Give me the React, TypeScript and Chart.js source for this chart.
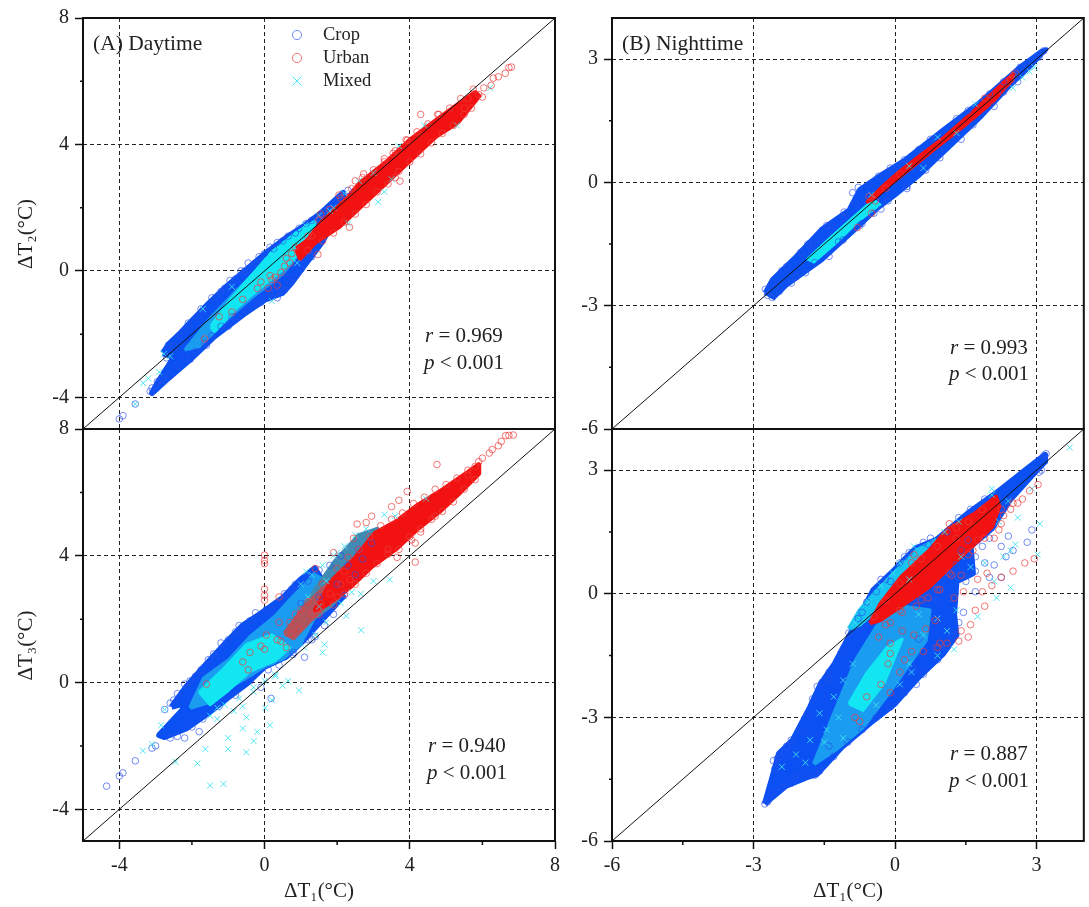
import React, { useEffect, useRef } from "react";
import { Chart, registerables } from "chart.js";

Chart.register(...registerables);

type P = [number, number];

const FONT = "'Liberation Serif', 'Times New Roman', serif";
const BLUE = "#0b50f2";
const MID = "#1a9cf0";
const CYAN = "#12e6f2";
const RED = "#f21212";
const MUD = "#b0545e";
const FRINGE = "#3f8bb4";

const seriesNames = ["Crop", "Urban", "Mixed"];

const dayTicks = [-4, 0, 4, 8];
const dayMinor = [-2, 2, 6];
const nightTicks = [-6, -3, 0, 3];
const nightMinor = [-4.5, -1.5, 1.5];

// ---------- Panel A (ΔT2 vs ΔT1, daytime) ----------
const aCropBody: P[] = [[-2.8,-2.6],[-2.62,-2.3],[-2.36,-2.02],[-1.97,-1.55],[-1.57,-1.07],[-0.98,-0.43],[-0.39,0.15],[0.1,0.62],[0.59,1.04],[1.08,1.41],[1.57,1.84],[2.16,2.47],[2.2,2.2],[1.57,0.89],[1.08,0.15],[0.74,-0.38],[0.49,-0.7],[0,-0.91],[-0.59,-1.38],[-1.38,-2.07],[-2.06,-2.81],[-2.65,-3.39],[-3.1,-3.86],[-2.95,-3.55],[-2.56,-2.85],[-2.4,-2.45],[-2.56,-2.7]];
const aMidBody: P[] = [[-2.2,-2.5],[-1.5,-1.5],[-0.8,-0.65],[-0.1,0.15],[0.6,0.85],[1.2,1.35],[1.2,0.9],[0.5,-0.1],[-0.3,-0.8],[-1,-1.5],[-1.8,-2.4]];
const aMixedBody: P[] = [[-1.47,-1.75],[-0.88,-0.85],[-0.2,0.04],[0.2,0.57],[0.88,1.2],[1.38,1.55],[1.28,0.99],[0.59,0.15],[-0.2,-0.59],[-0.79,-1.17],[-1.38,-1.9]];
const aUrbanBody: P[] = [[0.88,0.7],[1.18,0.95],[1.57,1.52],[2.16,2.15],[2.65,2.79],[3.34,3.42],[4.03,4.16],[4.82,4.84],[5.4,5.32],[5.8,5.64],[5.9,5.53],[5.31,4.69],[4.72,4.26],[4.13,3.63],[3.44,2.89],[2.75,2.15],[2.06,1.41],[1.38,0.89],[0.98,0.4]];
const aCrop: P[] = [[-4,-4.68],[-3.9,-4.58],[-3.56,-4.21],[-3.15,-3.81],[-3.1,-3.7],[-2.95,-3.5],[-2.8,-3.4],[-2.7,-2.75],[-2.6,-3.3],[-2.5,-2.4],[-2.35,-2.05],[-2.2,-1.9],[-2.05,-2.8],[-1.85,-1.45],[-1.7,-1.25],[-1.6,-2.35],[-1.35,-0.85],[-1.2,-1.75],[-1.1,-0.55],[-0.9,-1.45],[-0.8,-0.25],[-0.55,0],[-0.3,-1.05],[-0.25,0.25],[0,0.55],[-0.1,-1],[0.1,-0.85],[0.25,0.7],[0.3,-0.7],[0.45,-0.6],[0.5,0.95],[0.7,-0.35],[0.65,1.1],[0.95,1.35],[1.15,1.5],[1.55,1.75],[1.75,1.95],[2.15,2.4],[2.3,2.55],[-2.65,-2.35],[-2.1,-1.65],[-1.75,-1.2],[-1.45,-0.85],[-1.2,-0.65],[-0.95,-0.3],[-0.65,0],[-0.45,0.25],[-0.15,0.45],[0.15,0.75],[0.35,0.9],[0.85,1.2],[1.3,1.6],[-2.85,-3.45],[-2.4,-3],[-2.2,-2.75],[-1.9,-2.55],[-1.65,-2.3],[-1.45,-2.05],[-1,-1.75],[-0.75,-1.45],[-0.5,-1.25],[-0.2,-1.05],[0.35,-0.85],[0.55,-0.6],[0.8,-0.2],[1,0.05],[1.3,0.45]];
const aMixed: P[] = [[-3.34,-3.55],[-3.2,-3.4],[-2.77,-2.62],[-3.56,-4.21],[-2.9,-3.2],[-2.6,-2.7],[-1.7,-1.2],[-0.9,-0.5],[0.2,-0.95],[0.9,0.25],[1.12,1.45],[1.5,1.75],[1.8,1.9],[2.2,2.45],[2.6,2.85],[3.13,2.18],[3.3,2.5],[3,3.1],[3.7,3.95],[4.4,4.6],[5.3,4.6],[6.21,5.79],[1.9,2],[2.3,1.5],[3.5,2.9]];
const aUrban: P[] = [[6.8,6.45],[6.73,6.43],[6.63,6.25],[6.44,6.14],[6.3,6.1],[6.24,5.87],[6.04,5.79],[5.9,5.58],[5.75,5.75],[5.6,5.45],[5.5,5.15],[4.3,4.95],[4.77,4.95],[3.93,4.13],[3.73,2.84],[3.6,2.95],[2.34,1.38],[1.47,0.52],[2.73,3.07],[3.54,3.72],[3.3,3.45],[2.5,2.85],[2.05,2.4],[1.55,1.8],[1.3,1.1],[0.2,-0.27],[0.3,-0.2],[0.45,-0.05],[0.55,0.15],[0.7,0.25],[0.75,0.55],[0.85,0.75],[0.35,-0.45],[0.15,-0.15],[-0.2,-0.55],[-0.1,-0.35],[-0.9,-1.3],[-0.6,-0.9],[-1.65,-2.15],[-1.25,-1.45],[0.6,0.4],[0.1,-0.55],[1.2,1.1],[1.5,1.6],[1.8,1.95],[2.1,2.3],[2.4,2.6],[2.7,2.95],[3,3.2],[3.3,3.55],[3.6,3.8],[3.9,4.15],[4.2,4.4],[4.5,4.65],[4.8,4.95],[5.1,5.15],[5.4,5.45],[1.2,0.65],[1.6,0.95],[1.9,1.2],[2.2,1.55],[2.5,1.8],[2.8,2.1],[3.1,2.5],[3.4,2.75],[3.7,3.15],[4,3.45],[4.3,3.7],[4.6,4.05],[4.9,4.35],[5.2,4.6],[5.5,4.95],[5.7,5.15],[6,5.5]];

// ---------- Panel B (ΔT2 vs ΔT1, nighttime) ----------
const bCropBody: P[] = [[-2.76,-2.68],[-2.57,-2.81],[-2.31,-2.52],[-1.57,-1.91],[-0.83,-1.14],[-0.39,-0.66],[-0.01,-0.33],[0.5,0.15],[1.1,0.8],[1.84,1.61],[2.43,2.34],[2.88,2.83],[3.21,3.24],[3.1,3.2],[2.66,2.83],[1.77,1.94],[1.02,1.29],[0.21,0.56],[-0.31,0.19],[-0.76,-0.17],[-0.98,-0.66],[-1.57,-1.14],[-2.17,-1.87],[-2.61,-2.36]];
const bMixedBody: P[] = [[-1.87,-1.87],[-1.35,-1.31],[-0.83,-0.78],[-0.46,-0.41],[-0.31,-0.54],[-0.76,-0.94],[-1.28,-1.51],[-1.72,-1.95]];
const bUrbanBody: P[] = [[-0.61,-0.49],[-0.27,-0.09],[0.06,0.24],[0.5,0.64],[1.02,1.09],[1.54,1.61],[1.99,2.1],[2.36,2.51],[2.51,2.63],[2.47,2.47],[2.06,1.94],[1.47,1.37],[0.88,0.84],[0.36,0.36],[-0.09,-0.05],[-0.46,-0.41]];
const bCrop: P[] = [[-2.75,-2.6],[-2.7,-2.75],[-2.6,-2.8],[-2.6,-2.45],[-2.45,-2.65],[-2.3,-2.05],[-2.1,-2.3],[-1.75,-1.5],[-1.7,-1.95],[-1.35,-1.05],[-1.2,-1.45],[-1.08,-0.72],[-0.9,-0.25],[-0.78,-0.12],[-0.7,-1],[-0.35,0.15],[-0.15,0.25],[-0.3,-0.65],[0.05,0.4],[0.2,0.55],[0.25,-0.15],[3.15,3.2],[3.05,3.05],[2.9,2.95],[2.65,2.8],[-2.4,-2.15],[-2,-1.7],[-1.85,-1.5],[-1.45,-1.05],[-1.1,-0.85],[-0.85,-0.5],[-0.55,-0.05],[-0.1,0.35],[0.5,0.8],[0.75,1.05],[1.3,1.55],[1.55,1.75],[2,2.15],[2.3,2.45],[-2.2,-2.45],[-1.9,-2.2],[-1.4,-1.8],[-1.1,-1.4],[-0.75,-1.05],[-0.45,-0.75],[-0.15,-0.45],[0.25,-0.1],[0.65,0.3],[0.95,0.6],[1.4,1.05],[1.65,1.4],[2.1,1.85],[2.3,2.2],[2.6,2.45]];
const bMixed: P[] = [[-0.5,-0.3],[0.3,0.4],[0.9,1.1],[1.7,1.9],[2.5,2.3],[2.85,2.7],[2.95,2.8],[2.7,2.55],[1.3,1.2],[0.6,0.35]];
const bUrban: P[] = [[-0.55,-0.35],[-0.42,-0.45],[-0.2,-0.15],[0.1,0.2],[2.5,2.6],[2.45,2.5],[2.55,2.65],[1.9,2.05],[-0.8,-1.1],[-0.5,-0.75]];

// ---------- Panel C (ΔT3 vs ΔT1, daytime) ----------
const cCropBody: P[] = [[-2.56,-0.77],[-2.16,-0.14],[-1.67,0.5],[-1.08,1.23],[-0.59,1.81],[-0.1,2.18],[0.49,2.66],[0.98,3.23],[1.38,3.6],[1.6,3.2],[2.16,2.71],[1.57,1.97],[1.08,1.34],[0.59,0.81],[0,0.5],[-0.49,-0.03],[-0.98,-0.45],[-1.57,-0.98],[-2.16,-1.45],[-2.75,-1.72],[-2.9,-1.66],[-2.56,-1.24],[-2.26,-0.87],[-2.2,-0.65]];
const cMixedBody: P[] = [[-2.05,-0.8],[-1.67,0.13],[-0.98,0.71],[-0.39,1.44],[0.29,2.08],[0.79,2.71],[1.38,3.39],[1.97,3.02],[1.38,2.08],[0.98,1.2],[0.49,0.75],[-0.1,0.45],[-0.5,0.15],[-0.98,-0.14],[-1.47,-0.6]];
const cCyanBody: P[] = [[-1.8,-0.3],[-1.2,0.35],[-0.5,1.2],[0.2,1.5],[0.7,1.1],[0.3,0.7],[-0.4,0.35],[-1,-0.25],[-1.5,-0.7]];
const cFringeBody: P[] = [[0.9,2.1],[1.4,2.95],[1.95,3.85],[2.6,4.65],[3.1,4.85],[3.3,4.3],[2.4,3.1],[1.8,2.4],[1.2,1.9]];
const cMudBody: P[] = [[0.55,1.55],[1.1,2.4],[1.6,2.95],[2.1,3.4],[2.45,3.3],[1.85,2.6],[1.3,2],[0.8,1.4]];
const cUrbanBody: P[] = [[1.87,3.23],[2.46,3.87],[3.05,4.71],[3.64,5.08],[4.23,5.6],[4.91,6.08],[5.5,6.55],[5.9,6.87],[5.9,6.6],[5.31,5.92],[4.82,5.4],[4.23,4.87],[3.64,4.24],[2.95,3.66],[2.36,3.02],[1.77,2.5],[1.4,2.3]];
const cCrop: P[] = [[-4.35,-3.27],[-4,-2.95],[-3.9,-2.85],[-3.56,-2.47],[-3.1,-2.07],[-3,-2],[-2.2,-1.75],[-1.8,-1.55],[-2.75,-0.85],[-2.6,-0.65],[-2.4,-0.35],[-2.2,-0.05],[-1.9,0.2],[-1.55,0.72],[-1.2,1.25],[-0.8,1.6],[-0.4,1.95],[0.2,2.3],[-0.1,-0.15],[0.18,-0.5],[1.1,0.8],[0.78,0.88],[1.2,1.35],[1.4,1.45],[2.2,2.75],[2.5,3.4],[2.7,3.9],[2.1,4],[1.5,3.55],[0.75,2.95],[2.95,4.4],[2.6,4.2],[2.3,3.7],[1.8,3.7],[1.2,3.2],[2,3.1],[1.5,2.7],[1,2.5],[-2.5,-0.55],[-2.05,0.05],[-1.75,0.4],[-1.4,0.9],[-1,1.35],[-0.7,1.8],[-0.25,2.2],[0.05,2.3],[0.55,2.8],[0.85,3.1],[-2.6,-1.75],[-2.4,-1.7],[-2,-1.4],[-1.7,-1.15],[-1.25,-0.75],[-0.8,-0.4],[-0.4,0.05],[0.1,0.4],[0.4,0.55],[0.8,0.95],[1.3,1.35],[1.65,1.8],[1.9,2.15]];
const cMixed: P[] = [[-3.35,-2.15],[-3.1,-1.95],[-2.85,-1.35],[-2.75,-0.85],[-2.45,-2.5],[-1.85,-2.55],[-1.5,-3.25],[-1.13,-3.2],[-1.63,-2.1],[-1.5,-1.05],[-1.3,-1.15],[-1,-1.75],[-1,-2.1],[-0.5,-2.2],[-0.6,-1.45],[-0.5,-1.1],[-0.3,-1.85],[-0.2,-1.55],[0.15,-1.35],[0.02,-0.8],[0.2,-0.55],[-0.85,-0.9],[-0.6,-0.75],[-0.3,-0.3],[0.3,0.2],[0.65,0.05],[0.95,-0.25],[0.5,-0.1],[1.6,0.95],[1.65,1.2],[2.25,2.1],[2.66,1.65],[3.45,3.25],[2.65,2.8],[1.15,3.5],[2,4.1],[3.6,5.25],[3.3,5.3],[4.45,5.8],[1.5,2.4],[2.5,4.65],[3,3.2],[1,3.1],[1.3,3.4],[1.6,3.7],[1.9,4],[2.2,4.3],[2.8,4.85],[1.2,2.7],[1.7,3.2],[1.1,1.1],[1.4,1.5],[1.7,1.9],[2.1,2.5],[2.4,2.85],[0.3,0.25],[0,0.05],[-0.3,-0.15],[-0.7,-0.5],[-1.1,-0.7],[-1.3,-0.8]];
const cUrban: P[] = [[6.85,7.81],[6.73,7.8],[6.64,7.79],[6.52,7.61],[6.44,7.47],[6.27,7.35],[6.19,7.24],[6,7.08],[5.9,6.97],[5.8,6.82],[5.6,6.55],[4.75,6.88],[3.93,6.03],[3.5,5.55],[2.95,5.25],[2.8,5.05],[2.55,5],[2.45,4.55],[3.7,5.75],[4.7,5.25],[4.3,4.75],[4.05,4.5],[4.15,4.4],[4.15,3.8],[3.65,3.95],[3.4,4.2],[0,4.02],[0,3.85],[0,3.75],[0,2.95],[0,2.75],[0,2.6],[0.4,2.7],[1.9,4.1],[1.4,3.6],[1.6,3.1],[1.8,2.8],[2.2,3.5],[1.2,2.55],[1,2.3],[0.85,2.15],[0.7,1.9],[0.4,1.9],[0.35,1.35],[0.45,1.3],[0.75,1.55],[0.95,1.7],[0.05,1.5],[-0.1,1.15],[0,1.05],[-0.4,0.95],[-0.6,0.65],[-0.45,0.4],[-1.6,-0.05],[0.6,1.1],[1.3,2.15],[1.55,2.5],[2,2.7],[2.1,3.1],[2.35,3.25],[2,3.6],[2.3,3.95],[2.6,4.2],[2.9,4.6],[3.2,4.95],[3.5,5.15],[3.8,5.35],[4.1,5.65],[4.4,5.85],[4.7,6.1],[5,6.25],[5.3,6.45],[5.6,6.7],[1.5,2.15],[1.9,2.45],[2.2,2.8],[2.5,3.1],[2.8,3.45],[3.1,3.75],[3.4,4.05],[3.7,4.2],[4,4.6],[4.3,4.85],[4.6,5.15],[4.9,5.4],[5.2,5.7],[5.5,6.1],[5.8,6.4]];

// ---------- Panel D (ΔT3 vs ΔT1, nighttime) ----------
const dCropBody: P[] = [[-2.76,-5.1],[-2.61,-4.5],[-2.46,-3.88],[-2.17,-3.56],[-1.8,-2.75],[-1.57,-2.18],[-1.28,-1.7],[-0.98,-1.05],[-0.83,-0.72],[-0.46,0.09],[-0.01,0.58],[0.43,1.1],[0.88,1.31],[1.54,1.95],[2.14,2.44],[2.73,2.97],[3.18,3.37],[3.18,3.21],[2.88,2.85],[2.43,2.28],[2.06,1.6],[1.6,1.15],[1.65,0.5],[1.3,0.3],[1.25,-0.5],[1.3,-1],[1.02,-1.45],[0.5,-2.02],[-0.01,-2.67],[-0.46,-3.07],[-1.13,-3.72],[-1.65,-4.37],[-1.87,-4.45],[-2.31,-4.66],[-2.61,-4.94]];
const dMidBody: P[] = [[-1.72,-4.13],[-1.35,-3.07],[-0.83,-1.61],[-0.39,-0.8],[0.21,-0.32],[0.73,-0.4],[0.65,-1.13],[-0.09,-2.34],[-0.68,-3.24],[-1.28,-3.8]];
const dCyanBody: P[] = [[-0.98,-2.67],[-0.61,-1.94],[-0.16,-1.29],[0.15,-1.1],[-0.24,-2.18],[-0.68,-2.83]];
const dTopMixedBody: P[] = [[-0.98,-0.85],[-0.75,-0.4],[-0.39,0.07],[0.02,0.55],[0.45,1.05],[0.85,1.3],[0.85,0.95],[0.2,0.25],[-0.35,-0.35],[-0.75,-0.75]];
const dUrbanBody: P[] = [[-0.53,-0.72],[-0.31,-0.24],[0.13,0.41],[0.73,1.06],[1.1,1.55],[1.69,1.95],[2.14,2.36],[2.21,2.12],[2.06,1.63],[1.62,1.14],[1.17,0.66],[0.73,0.17],[0.21,-0.24],[-0.31,-0.64]];
const dCrop: P[] = [[-2.76,-5.1],[-2.7,-5.05],[-2.62,-4.85],[-2.58,-4.05],[-2.55,-4.25],[-2.45,-3.95],[-2.35,-3.85],[-2.2,-3.55],[-1.85,-2.9],[-1.65,-2.25],[-1.55,-2.15],[-1.4,-1.9],[-0.98,-0.95],[-0.78,-0.6],[-0.4,0.05],[-0.1,0.3],[0.1,0.75],[0.7,1.2],[1.1,1.5],[1.6,2.05],[1.9,2.3],[2.35,2.6],[2.95,3],[3.15,3.35],[3.2,3.4],[3.1,3],[3.05,2.95],[2.8,1.25],[2.9,1.55],[2.4,1.4],[2.25,1.15],[2.35,0.9],[2.5,1.05],[2.1,0.7],[1.9,0.75],[1.7,0.55],[1.5,0.3],[1.7,0.05],[2,0.4],[2.25,0.4],[1.15,-0.1],[0.9,-0.15],[0.5,-1.1],[0.45,-2.2],[-1.4,-3.7],[-1.9,-4.4],[-2.1,-4.4],[-1.7,-4.4],[0.4,-1.8],[0.85,-1.3],[-2.4,-4.7],[-2.2,-4.6],[-1.6,-4.3],[-1.3,-3.95],[-1,-3.6],[-0.7,-3.3],[-0.4,-3],[-0.1,-2.75],[0.2,-2.4],[0.6,-1.95],[0.9,-1.6],[1.1,-1.3],[1.2,-1],[1.35,-0.7],[1.45,-0.45],[1.7,0.9],[1.85,1.15],[2,1.35],[0.2,0.9],[0.6,1.25],[-0.3,0.35],[-0.6,-0.2],[1.55,1.3],[1.4,1.05],[1.3,0.7],[-2.5,-4],[-2.3,-3.7],[-2,-3.3],[-1.75,-2.55],[-1.4,-2.1],[-1.15,-1.45],[-0.7,-0.45],[-0.2,0.35],[0.3,1],[0.75,1.35],[1.35,1.85]];
const dMixed: P[] = [[3.7,3.55],[3.07,1.7],[3.02,0.95],[2.55,1.2],[2.45,1.05],[2.3,0.9],[2.45,0.15],[2.1,0.3],[2.15,-0.1],[1.75,-0.55],[1.6,0.65],[1.4,0.9],[1.9,0.75],[2.05,2.55],[2.05,2.4],[2.4,2.25],[2.6,1.85],[1.35,1.75],[1.05,1.5],[0.4,1.15],[0.1,0.75],[-0.3,0.2],[-0.55,-0.2],[-0.85,-0.7],[1.25,-1.35],[0.9,-1.5],[2.9,2.55],[2.2,1.75],[-0.05,0.5],[0.3,0.35],[0.9,-0.6],[0.5,-0.5],[1.1,-0.9],[1.3,-0.4],[-1.1,-3.5],[-1.8,-3.55],[-0.4,-2.7],[-1.45,-3.3],[0.3,-1.7],[0.6,-1],[-2.4,-4.2],[-2.1,-3.9],[-1.9,-4.1],[-1.5,-3.6],[-1.6,-2.9],[-1.3,-2.5],[-1.1,-2.1],[-1.2,-3],[-0.9,-1.7],[0.1,-2.2],[0.35,-1.9]];
const dUrban: P[] = [[3.03,2.65],[2.85,2.5],[2.7,2.3],[2.6,2.2],[2.5,2.2],[2.45,2.05],[2.3,1.9],[2.25,1.7],[2.2,1.55],[2.1,1.35],[1.75,1.3],[1.65,1.05],[1.3,1.35],[1.15,1.7],[0.4,0.95],[2.95,0.85],[2.75,0.75],[2.5,0.55],[2.25,0.4],[2.05,0.2],[1.85,0.05],[1.9,-0.3],[1.7,-0.4],[1.6,-0.75],[1.4,-0.9],[1.55,-1.05],[1.35,-1.15],[1.1,-1.2],[0.9,-1.3],[1.95,0.5],[1.75,0.35],[1.45,0.05],[1.25,-0.1],[1.4,0.45],[1.15,0.5],[0.95,0.1],[0.7,-0.1],[0.45,-0.3],[0.1,-0.4],[-0.2,-0.75],[-0.35,-1.05],[-0.1,-1.2],[0.15,-0.9],[0.4,-1],[-0.1,-1.45],[-0.15,-1.7],[0.2,-1.6],[0.35,-1.4],[-0.3,-2.2],[-0.6,-2.5],[-0.85,-3],[-0.75,-3.1],[-0.1,-2.4],[0.65,-0.85],[0.85,-0.65],[0.95,-1.2],[0.6,-1.4],[0.1,-1.9],[-0.45,-0.55],[-0.2,-0.15],[0.1,0.25],[0.35,0.75],[0.55,0.85],[0.9,1.15],[1.3,1.6],[1.55,1.75],[1.85,2.05],[2.25,2.05],[1.9,1.35],[1.55,0.95],[1.2,0.45],[0.9,0.1],[0.55,-0.15],[0.15,-0.45],[-0.1,-0.7]];

const oneToOneDay: P[] = [[-5, -5], [8, 8]];
const oneToOneNight: P[] = [[-6, -6], [4, 4]];

type Layer = { name: string; pts: P[]; color: string; edge: number };
type PanelDef = {
  left: number; top: number; width: number; height: number;
  area: { l: number; r: number; t: number; b: number };
  range: [number, number, number];
  ticks: number[]; minor: number[]; diag: P[];
  bodies: Layer[];
  crop: P[]; mixed: P[]; urban: P[];
  yTitle?: string; xTitle?: string; legend?: boolean;
};

const panels: PanelDef[] = [
  { left: 0, top: 0, width: 575, height: 440, area: { l: 83, r: 555, t: 18, b: 429 }, range: [-5, 8, 8],
    ticks: dayTicks, minor: dayMinor, diag: oneToOneDay, yTitle: "ΔT₂(°C)\u00a0\u00a0\u00a0\u00a0", legend: true,
    bodies: [
      { name: "Crop dense", pts: aCropBody, color: BLUE, edge: 6 },
      { name: "Mixed spread", pts: aMidBody, color: MID, edge: 3 },
      { name: "Mixed dense", pts: aMixedBody, color: CYAN, edge: 4 },
      { name: "Urban dense", pts: aUrbanBody, color: RED, edge: 5 },
    ], crop: aCrop, mixed: aMixed, urban: aUrban },
  { left: 560, top: 0, width: 529, height: 440, area: { l: 52, r: 524, t: 18, b: 429 }, range: [-6, 4, 4],
    ticks: nightTicks, minor: nightMinor, diag: oneToOneNight,
    bodies: [
      { name: "Crop dense", pts: bCropBody, color: BLUE, edge: 4 },
      { name: "Mixed dense", pts: bMixedBody, color: CYAN, edge: 2 },
      { name: "Urban dense", pts: bUrbanBody, color: RED, edge: 3 },
    ], crop: bCrop, mixed: bMixed, urban: bUrban },
  { left: 0, top: 410, width: 575, height: 497, area: { l: 83, r: 555, t: 19, b: 431 }, range: [-5, 8, 8],
    ticks: dayTicks, minor: dayMinor, diag: oneToOneDay, yTitle: "ΔT₃(°C)\u00a0\u00a0\u00a0\u00a0", xTitle: "ΔT₁(°C)",
    bodies: [
      { name: "Crop dense", pts: cCropBody, color: BLUE, edge: 6 },
      { name: "Mixed spread", pts: cMixedBody, color: MID, edge: 4 },
      { name: "Mixed dense", pts: cCyanBody, color: CYAN, edge: 3 },
      { name: "Mixed fringe", pts: cFringeBody, color: FRINGE, edge: 4 },
      { name: "Urban spread", pts: cMudBody, color: MUD, edge: 4 },
      { name: "Urban dense", pts: cUrbanBody, color: RED, edge: 5 },
    ], crop: cCrop, mixed: cMixed, urban: cUrban },
  { left: 560, top: 410, width: 529, height: 497, area: { l: 52, r: 524, t: 19, b: 431 }, range: [-6, 4, 4],
    ticks: nightTicks, minor: nightMinor, diag: oneToOneNight, xTitle: "ΔT₁(°C)",
    bodies: [
      { name: "Crop dense", pts: dCropBody, color: BLUE, edge: 6 },
      { name: "Mixed spread", pts: dMidBody, color: MID, edge: 4 },
      { name: "Mixed dense", pts: dCyanBody, color: CYAN, edge: 3 },
      { name: "Mixed upper", pts: dTopMixedBody, color: "#18c4f0", edge: 4 },
      { name: "Urban dense", pts: dUrbanBody, color: RED, edge: 4 },
    ], crop: dCrop, mixed: dMixed, urban: dUrban },
];

const notes = [
  { left: 93, top: 33, text: "(A) Daytime" },
  { left: 622, top: 33, text: "(B) Nighttime" },
];
const stats = [
  { left: 425, top: 325, r: "0.969", p: "0.001", gap: 27 },
  { left: 950, top: 337, r: "0.993", p: "0.001", gap: 26 },
  { left: 428, top: 735, r: "0.940", p: "0.001", gap: 27 },
  { left: 950, top: 743, r: "0.887", p: "0.001", gap: 27 },
];

const CROP_LINE = "rgba(40,80,235,0.65)";
const URBAN_LINE = "rgba(238,60,60,0.7)";
const MIXED_LINE = "rgba(60,225,240,0.9)";

function Panel({ def }: { def: PanelDef }) {
  const ref = useRef<HTMLCanvasElement>(null);
  useEffect(() => {
    const { area, width, height, range, ticks, minor } = def;
    const [lo, xHi, yHi] = range;
    const xAxisHeight = def.xTitle ? height - area.b : 0;
    const frame = {
      id: "frame",
      afterDatasetsDraw(chart: any) {
        const { ctx, chartArea: a, scales } = chart;
        ctx.save();
        ctx.strokeStyle = "#111";
        ctx.lineWidth = 1.5;
        ctx.beginPath();
        for (const v of minor) {
          const y = scales.y.getPixelForValue(v);
          ctx.moveTo(a.left - 3, y);
          ctx.lineTo(a.left, y);
          if (def.xTitle) {
            const x = scales.x.getPixelForValue(v);
            ctx.moveTo(x, a.bottom);
            ctx.lineTo(x, a.bottom + 4);
          }
        }
        ctx.stroke();
        ctx.lineWidth = 2;
        ctx.strokeRect(a.left, a.top, a.right - a.left, a.bottom - a.top);
        if (def.legend) {
          const px = 297;
          const tx = 323;
          const rows = [
            { y: 35, name: seriesNames[0], color: CROP_LINE, style: "circle" },
            { y: 58, name: seriesNames[1], color: URBAN_LINE, style: "circle" },
            { y: 81, name: seriesNames[2], color: MIXED_LINE, style: "crossRot" },
          ];
          for (const row of rows) {
            ctx.strokeStyle = row.color;
            ctx.lineWidth = 1;
            ctx.beginPath();
            if (row.style === "circle") {
              ctx.arc(px, row.y, 4.6, 0, Math.PI * 2);
            } else {
              ctx.moveTo(px - 4.5, row.y - 4.5);
              ctx.lineTo(px + 4.5, row.y + 4.5);
              ctx.moveTo(px + 4.5, row.y - 4.5);
              ctx.lineTo(px - 4.5, row.y + 4.5);
            }
            ctx.stroke();
            ctx.fillStyle = "#222";
            ctx.font = `18.5px ${FONT}`;
            ctx.textBaseline = "middle";
            ctx.fillText(row.name, tx, row.y);
          }
        }
        ctx.restore();
      },
    };
    const toXY = (p: P[]) => p.map(([x, y]) => ({ x, y }));
    const bodyCount = def.bodies.length;
    const datasets: any[] = [
      { type: "scatter", label: "1:1", data: toXY(def.diag), showLine: true, pointRadius: 0, borderColor: "#111", borderWidth: 1, order: 0 },
      { type: "scatter", label: seriesNames[1], data: toXY(def.urban), pointRadius: 3.3, pointStyle: "circle", backgroundColor: "transparent", borderColor: URBAN_LINE, borderWidth: 1, order: 1 },
      { type: "scatter", label: seriesNames[2], data: toXY(def.mixed), pointRadius: 4.2, pointStyle: "crossRot", backgroundColor: "transparent", borderColor: MIXED_LINE, borderWidth: 1, order: 2 },
      { type: "scatter", label: seriesNames[0], data: toXY(def.crop), pointRadius: 3.3, pointStyle: "circle", backgroundColor: "transparent", borderColor: CROP_LINE, borderWidth: 1, order: 3 },
      ...def.bodies.map((b, i) => ({
        type: "scatter", label: b.name, data: toXY([...b.pts, b.pts[0]]), showLine: true, pointRadius: 0,
        borderWidth: b.edge, borderJoinStyle: "round",
        borderColor: b.color, backgroundColor: b.color, fill: "shape", order: 4 + bodyCount - i,
      })),
    ];
    const zeroPad = (s: any) => { s.paddingTop = 0; s.paddingBottom = 0; s.paddingLeft = 0; s.paddingRight = 0; };
    const chart = new Chart(ref.current as HTMLCanvasElement, {
      type: "scatter",
      data: { datasets },
      plugins: [frame],
      options: {
        animation: false,
        responsive: false,
        events: [],
        layout: { padding: { left: 0, right: width - area.r, top: area.t, bottom: def.xTitle ? 0 : height - area.b } },
        plugins: { legend: { display: false }, tooltip: { enabled: false } },
        scales: {
          x: {
            type: "linear", min: lo, max: xHi,
            afterBuildTicks: (s: any) => { s.ticks = ticks.map((value) => ({ value })); },
            afterFit: (s: any) => { s.height = xAxisHeight; zeroPad(s); },
            grid: { color: "#222", lineWidth: 1, drawTicks: !!def.xTitle, tickLength: 8, tickColor: "#111", tickWidth: 1.5 },
            border: { display: false, dash: [4, 3] },
            ticks: {
              display: !!def.xTitle, autoSkip: false, maxRotation: 0, padding: 5, color: "#222",
              font: { family: FONT, size: 20 }, callback: (v: any) => String(v),
            },
            title: def.xTitle
              ? { display: true, text: def.xTitle, color: "#222", font: { family: FONT, size: 21 }, padding: { top: 0, bottom: 3 } }
              : { display: false },
          },
          y: {
            type: "linear", min: lo, max: yHi,
            afterBuildTicks: (s: any) => { s.ticks = ticks.map((value) => ({ value })); },
            afterFit: (s: any) => { s.width = area.l; zeroPad(s); },
            grid: { color: "#222", lineWidth: 1, tickLength: 8, tickColor: "#111", tickWidth: 1.5 },
            border: { display: false, dash: [4, 3] },
            ticks: {
              autoSkip: false, maxRotation: 0, padding: 6, color: "#222",
              font: { family: FONT, size: 20 }, callback: (v: any) => String(v),
            },
            title: def.yTitle
              ? { display: true, text: def.yTitle, color: "#222", font: { family: FONT, size: 21 }, padding: { top: 14, bottom: 0 } }
              : { display: false },
          },
        },
      },
    } as any);
    return () => chart.destroy();
  }, [def]);
  return (
    <canvas
      ref={ref}
      width={def.width}
      height={def.height}
      style={{ position: "absolute", left: def.left, top: def.top, width: def.width, height: def.height }}
    />
  );
}

export default function App() {
  const textStyle: React.CSSProperties = { position: "absolute", fontFamily: FONT, color: "#222", whiteSpace: "nowrap", lineHeight: 1 };
  return (
    <div style={{ position: "absolute", left: 0, top: 0, width: 1089, height: 907, overflow: "hidden", background: "#fff" }}>
      {panels.map((def, i) => <Panel key={i} def={def} />)}
      {notes.map((n) => (
        <div key={n.text} style={{ ...textStyle, left: n.left, top: n.top, fontSize: 21.5 }}>{n.text}</div>
      ))}
      {stats.map((s) => (
        <React.Fragment key={s.r}>
          <div style={{ ...textStyle, left: s.left, top: s.top, fontSize: 21 }}><i>r</i> = {s.r}</div>
          <div style={{ ...textStyle, left: s.left - 1, top: s.top + s.gap, fontSize: 21 }}><i>p</i> &lt; {s.p}</div>
        </React.Fragment>
      ))}
    </div>
  );
}
